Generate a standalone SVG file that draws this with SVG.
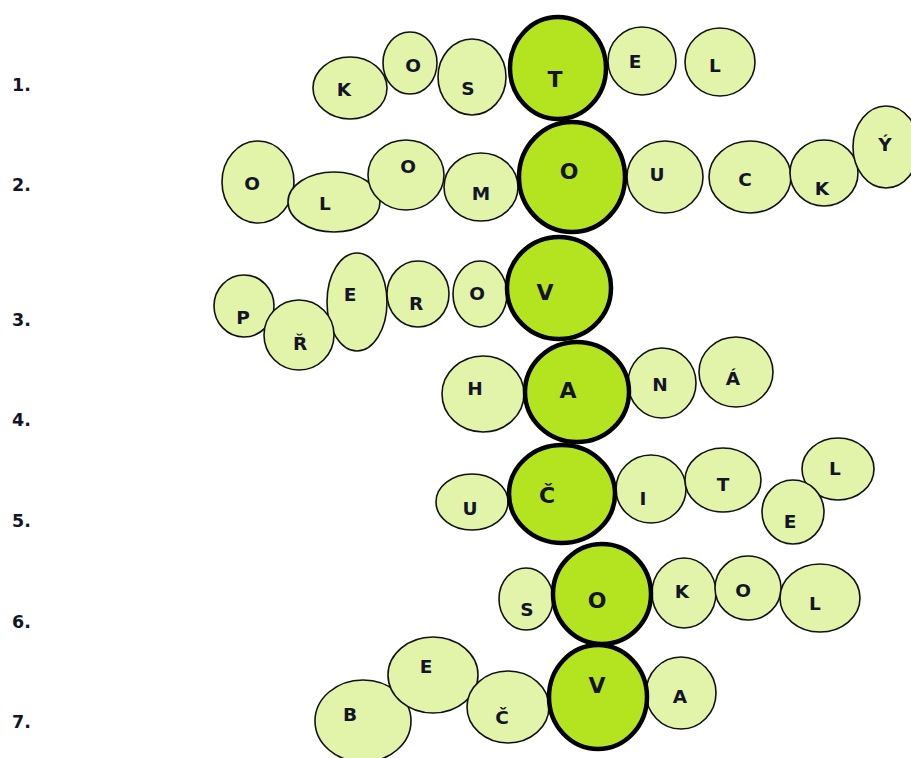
<svg xmlns="http://www.w3.org/2000/svg" width="911" height="758" viewBox="0 0 911 758">
<style>
.s{fill:#e1f4aa;stroke:#111;stroke-width:1.6}
.b{fill:#b4e31f;stroke:#000;stroke-width:4.5}
text{font-family:"DejaVu Sans","Liberation Sans",sans-serif;font-weight:bold;font-size:18.5px;fill:#141428;text-anchor:middle}
.n{font-size:17.5px;text-anchor:start}
.L{font-size:22px}
</style>
<rect width="911" height="758" fill="#fff"/>
<g id="labels">
<text class="n" x="12" y="91">1.</text>
<text class="n" x="12" y="191">2.</text>
<text class="n" x="12" y="326">3.</text>
<text class="n" x="12" y="426">4.</text>
<text class="n" x="12" y="527">5.</text>
<text class="n" x="12" y="628">6.</text>
<text class="n" x="12" y="728">7.</text>
</g>
<g id="row1">
<g id="r1-K"><ellipse class="s" cx="350" cy="88" rx="37" ry="31"/><text x="344" y="96">K</text></g>
<g id="r1-O"><ellipse class="s" cx="410" cy="63" rx="27" ry="31"/><text x="413" y="72">O</text></g>
<g id="r1-S"><ellipse class="s" cx="472" cy="77" rx="34" ry="38"/><text x="468" y="95">S</text></g>
<g id="r1-E"><ellipse class="s" cx="642" cy="61" rx="34" ry="34"/><text x="635" y="68">E</text></g>
<g id="r1-L"><ellipse class="s" cx="720" cy="62" rx="35" ry="34"/><text x="715" y="72">L</text></g>
</g>
<g id="row2">
<g id="r2-O1"><ellipse class="s" cx="258" cy="182" rx="36" ry="41"/><text x="252" y="190">O</text></g>
<g id="r2-L"><ellipse class="s" cx="334" cy="202" rx="46" ry="30"/><text x="325" y="210">L</text></g>
<g id="r2-O2"><ellipse class="s" cx="406" cy="175" rx="38" ry="35"/><text x="408" y="173">O</text></g>
<g id="r2-M"><ellipse class="s" cx="481" cy="187" rx="37" ry="34"/><text x="481" y="200">M</text></g>
<g id="r2-U"><ellipse class="s" cx="665" cy="177" rx="38" ry="36"/><text x="657" y="181">U</text></g>
<g id="r2-C"><ellipse class="s" cx="750" cy="177" rx="41" ry="36"/><text x="745" y="186">C</text></g>
<g id="r2-K"><ellipse class="s" cx="824" cy="173" rx="34" ry="33"/><text x="822" y="195">K</text></g>
<g id="r2-Y"><ellipse class="s" cx="886" cy="147" rx="33" ry="41"/><text x="885" y="151">Ý</text></g>
</g>
<g id="row3">
<g id="r3-P"><ellipse class="s" cx="244" cy="306" rx="30" ry="31"/><text x="243" y="324">P</text></g>
<g id="r3-E"><ellipse class="s" cx="357" cy="302" rx="30" ry="49"/><text x="350" y="301">E</text></g>
<g id="r3-R2"><ellipse class="s" cx="299" cy="335" rx="35" ry="35"/><text x="300" y="350">Ř</text></g>
<g id="r3-R"><ellipse class="s" cx="418" cy="294" rx="31" ry="33"/><text x="416" y="310">R</text></g>
<g id="r3-O"><ellipse class="s" cx="480" cy="294" rx="27" ry="33"/><text x="477" y="300">O</text></g>
</g>
<g id="row4">
<g id="r4-H"><ellipse class="s" cx="483" cy="394" rx="41" ry="38"/><text x="475" y="395">H</text></g>
<g id="r4-N"><ellipse class="s" cx="662" cy="383" rx="34" ry="35"/><text x="660" y="391">N</text></g>
<g id="r4-A2"><ellipse class="s" cx="736" cy="372" rx="37" ry="35"/><text x="733" y="385">Á</text></g>
</g>
<g id="row5">
<g id="r5-U"><ellipse class="s" cx="472" cy="502" rx="36" ry="28"/><text x="470" y="515">U</text></g>
<g id="r5-I"><ellipse class="s" cx="651" cy="489" rx="35" ry="34"/><text x="643" y="505">I</text></g>
<g id="r5-T"><ellipse class="s" cx="723" cy="480" rx="38" ry="32"/><text x="723" y="491">T</text></g>
<g id="r5-L"><ellipse class="s" cx="838" cy="469" rx="36" ry="31"/><text x="835" y="475">L</text></g>
<g id="r5-E"><ellipse class="s" cx="793" cy="512" rx="31" ry="32"/><text x="790" y="528">E</text></g>
</g>
<g id="row6">
<g id="r6-S"><ellipse class="s" cx="526" cy="599" rx="27" ry="31"/><text x="527" y="616">S</text></g>
<g id="r6-K"><ellipse class="s" cx="684" cy="593" rx="32" ry="35"/><text x="682" y="598">K</text></g>
<g id="r6-O"><ellipse class="s" cx="748" cy="588" rx="33" ry="32"/><text x="743" y="597">O</text></g>
<g id="r6-L"><ellipse class="s" cx="820" cy="598" rx="40" ry="34"/><text x="815" y="610">L</text></g>
</g>
<g id="row7">
<g id="r7-B"><ellipse class="s" cx="363" cy="721" rx="48" ry="41"/><text x="350" y="721">B</text></g>
<g id="r7-E"><ellipse class="s" cx="433" cy="675" rx="45" ry="38"/><text x="426" y="673">E</text></g>
<g id="r7-C"><ellipse class="s" cx="508" cy="707" rx="41" ry="36"/><text x="502" y="724">Č</text></g>
<g id="r7-A"><ellipse class="s" cx="681" cy="693" rx="35" ry="36"/><text x="680" y="703">A</text></g>
</g>
<g id="solution">
<g id="c-T"><ellipse class="b" cx="558" cy="68" rx="48" ry="51"/><text class="L" x="555" y="87">T</text></g>
<g id="c-O"><ellipse class="b" cx="572" cy="177" rx="53" ry="55"/><text class="L" x="569" y="179">O</text></g>
<g id="c-V"><ellipse class="b" cx="559" cy="288" rx="52" ry="51"/><text class="L" x="545" y="300">V</text></g>
<g id="c-A"><ellipse class="b" cx="577" cy="392" rx="52" ry="50"/><text class="L" x="568" y="398">A</text></g>
<g id="c-C"><ellipse class="b" cx="562" cy="494" rx="53" ry="49"/><text class="L" x="547" y="503">Č</text></g>
<g id="c-O2"><ellipse class="b" cx="602" cy="594" rx="49" ry="50"/><text class="L" x="597" y="608">O</text></g>
<g id="c-V2"><ellipse class="b" cx="598" cy="697" rx="49" ry="52"/><text class="L" x="597" y="693">V</text></g>
</g>
<g id="connectors"/>
</svg>
